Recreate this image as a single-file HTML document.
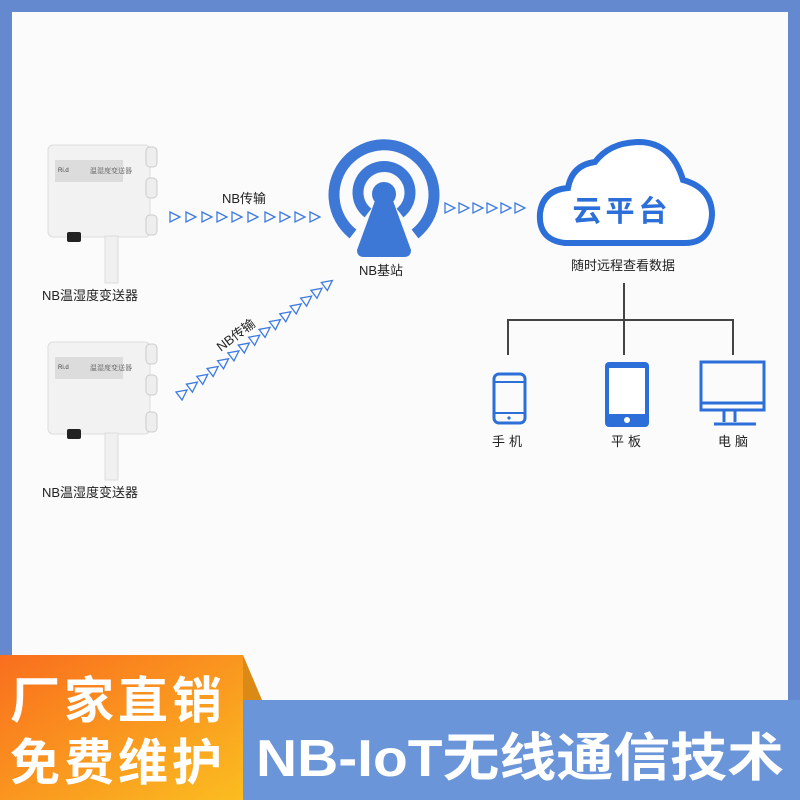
<!DOCTYPE html>
<html><head><meta charset="utf-8"><style>
body{margin:0;width:800px;height:800px;overflow:hidden;background:#6589ce;font-family:"Liberation Sans","Noto Sans CJK SC",sans-serif;}
.abs{position:absolute}
</style></head><body>
<div class="abs" style="left:12px;top:12px;width:776px;height:700px;background:#fbfbfb"></div>
<svg class="abs" style="left:0;top:0" width="800" height="800" viewBox="0 0 800 800">
<defs>
<linearGradient id="og" x1="0" y1="0" x2="1" y2="1"><stop offset="0" stop-color="#f96e1e"/><stop offset="1" stop-color="#fbbd20"/></linearGradient>
<g id="tri"><path d="M-5,-5 L5,0 L-5,5 Z" fill="none" stroke="#3d7be0" stroke-width="1.3"/></g>
<g id="sensor">
<rect x="48" y="145" width="102" height="92" rx="5" fill="#f2f2f2" stroke="#ddd"/>
<rect x="146" y="147" width="11" height="20" rx="4" fill="#eee" stroke="#ccc"/>
<rect x="146" y="178" width="11" height="20" rx="4" fill="#eee" stroke="#ccc"/>
<rect x="146" y="215" width="11" height="20" rx="4" fill="#eee" stroke="#ccc"/>
<rect x="55" y="160" width="68" height="22" fill="#dcdcdc"/>
<text x="90" y="173" font-size="7" fill="#555" font-family="Noto Serif CJK SC,serif">温湿度变送器</text>
<text x="58" y="172" font-size="6" fill="#444">Ri.d</text>
<rect x="67" y="232" width="14" height="10" rx="2" fill="#222"/>
<rect x="105" y="236" width="13" height="47" fill="#f0f0f0" stroke="#ddd"/>
</g>
</defs>
<use href="#sensor"/>
<use href="#sensor" y="197"/>
<g>
<use href="#tri" x="175" y="217"/><use href="#tri" x="191" y="217"/><use href="#tri" x="207" y="217"/><use href="#tri" x="222" y="217"/><use href="#tri" x="237" y="217"/><use href="#tri" x="253" y="217"/><use href="#tri" x="270" y="217"/><use href="#tri" x="285" y="217"/><use href="#tri" x="300" y="217"/><use href="#tri" x="315" y="217"/>
</g>
<text x="222" y="203" font-size="13" fill="#222">NB传输</text>
<g transform="translate(183,393) rotate(-37)">
<use href="#tri" x="0"/><use href="#tri" x="13"/><use href="#tri" x="26"/><use href="#tri" x="39"/><use href="#tri" x="52"/><use href="#tri" x="65"/><use href="#tri" x="78"/><use href="#tri" x="91"/><use href="#tri" x="104"/><use href="#tri" x="117"/><use href="#tri" x="130"/><use href="#tri" x="143"/><use href="#tri" x="156"/><use href="#tri" x="169"/><use href="#tri" x="182"/>
<text x="55" y="-10" font-size="13" fill="#222">NB传输</text>
</g>
<g><use href="#tri" x="450" y="208"/><use href="#tri" x="464" y="208"/><use href="#tri" x="478" y="208"/><use href="#tri" x="492" y="208"/><use href="#tri" x="506" y="208"/><use href="#tri" x="520" y="208"/></g>
<g fill="none" stroke="#3e78d6" stroke-width="11">
<path d="M353,234 A50,50 0 1 1 415,234"/>
<path d="M368,213 A26,26 0 1 1 400,213"/>
</g>
<circle cx="384" cy="194" r="12" fill="#3e78d6"/>
<path d="M376,198 L392,198 L411,250 Q411,257 404,257 L364,257 Q357,257 357,250 Z" fill="#3e78d6"/>
<text x="359" y="275" font-size="13" fill="#222">NB基站</text>
<path d="M565,243 Q538,240 540,213 Q543,190 568,188 Q572,165 595,162 Q610,142 640,142 Q672,143 683,180 Q712,188 712,215 Q710,243 685,243 Z" fill="#fff" stroke="#2d6fd8" stroke-width="6"/>
<text x="622" y="221" font-size="29" font-weight="bold" fill="#2d6fd8" text-anchor="middle" letter-spacing="4">云平台</text>
<text x="623" y="270" font-size="13" fill="#222" text-anchor="middle">随时远程查看数据</text>
<g stroke="#444" stroke-width="2" fill="none">
<path d="M624,283 V355 M508,355 V320 H733 V355"/>
</g>
<rect x="494" y="374" width="31" height="49" rx="5" fill="none" stroke="#2d6fd8" stroke-width="3"/>
<path d="M494,382 H525 M494,413 H525" stroke="#2d6fd8" stroke-width="2"/>
<circle cx="509" cy="418" r="1.6" fill="#2d6fd8"/>
<rect x="605" y="362" width="44" height="65" rx="4" fill="#2d6fd8"/>
<rect x="609" y="368" width="36" height="46" fill="#fff"/>
<circle cx="627" cy="420" r="3" fill="#fff"/>
<rect x="701" y="362" width="63" height="48" fill="none" stroke="#2d6fd8" stroke-width="3"/>
<path d="M701,403 H764 M724,410 V422 M735,410 V422 M714,424 H756" stroke="#2d6fd8" stroke-width="3" fill="none"/>
<text x="509" y="446" font-size="13" fill="#222" text-anchor="middle" letter-spacing="4">手机</text>
<text x="628" y="446" font-size="13" fill="#222" text-anchor="middle" letter-spacing="4">平板</text>
<text x="735" y="446" font-size="13" fill="#222" text-anchor="middle" letter-spacing="4">电脑</text>
<text x="42" y="300" font-size="13" fill="#222">NB温湿度变送器</text>
<text x="42" y="497" font-size="13" fill="#222">NB温湿度变送器</text>
<rect x="0" y="655" width="243" height="145" fill="url(#og)"/>
<path d="M243,655 L262,700 L243,700 Z" fill="#dc8a16"/>
<rect x="243" y="700" width="557" height="100" fill="#6a95d9"/>
<text x="10" y="718" font-size="50" font-weight="bold" fill="#fff" letter-spacing="4">厂家直销</text>
<text x="10" y="780" font-size="50" font-weight="bold" fill="#fff" letter-spacing="4">免费维护</text>
<text x="256" y="776" font-size="52" font-weight="bold" fill="#fff" textLength="528" lengthAdjust="spacingAndGlyphs">NB-IoT无线通信技术</text>
</svg>
</body></html>
